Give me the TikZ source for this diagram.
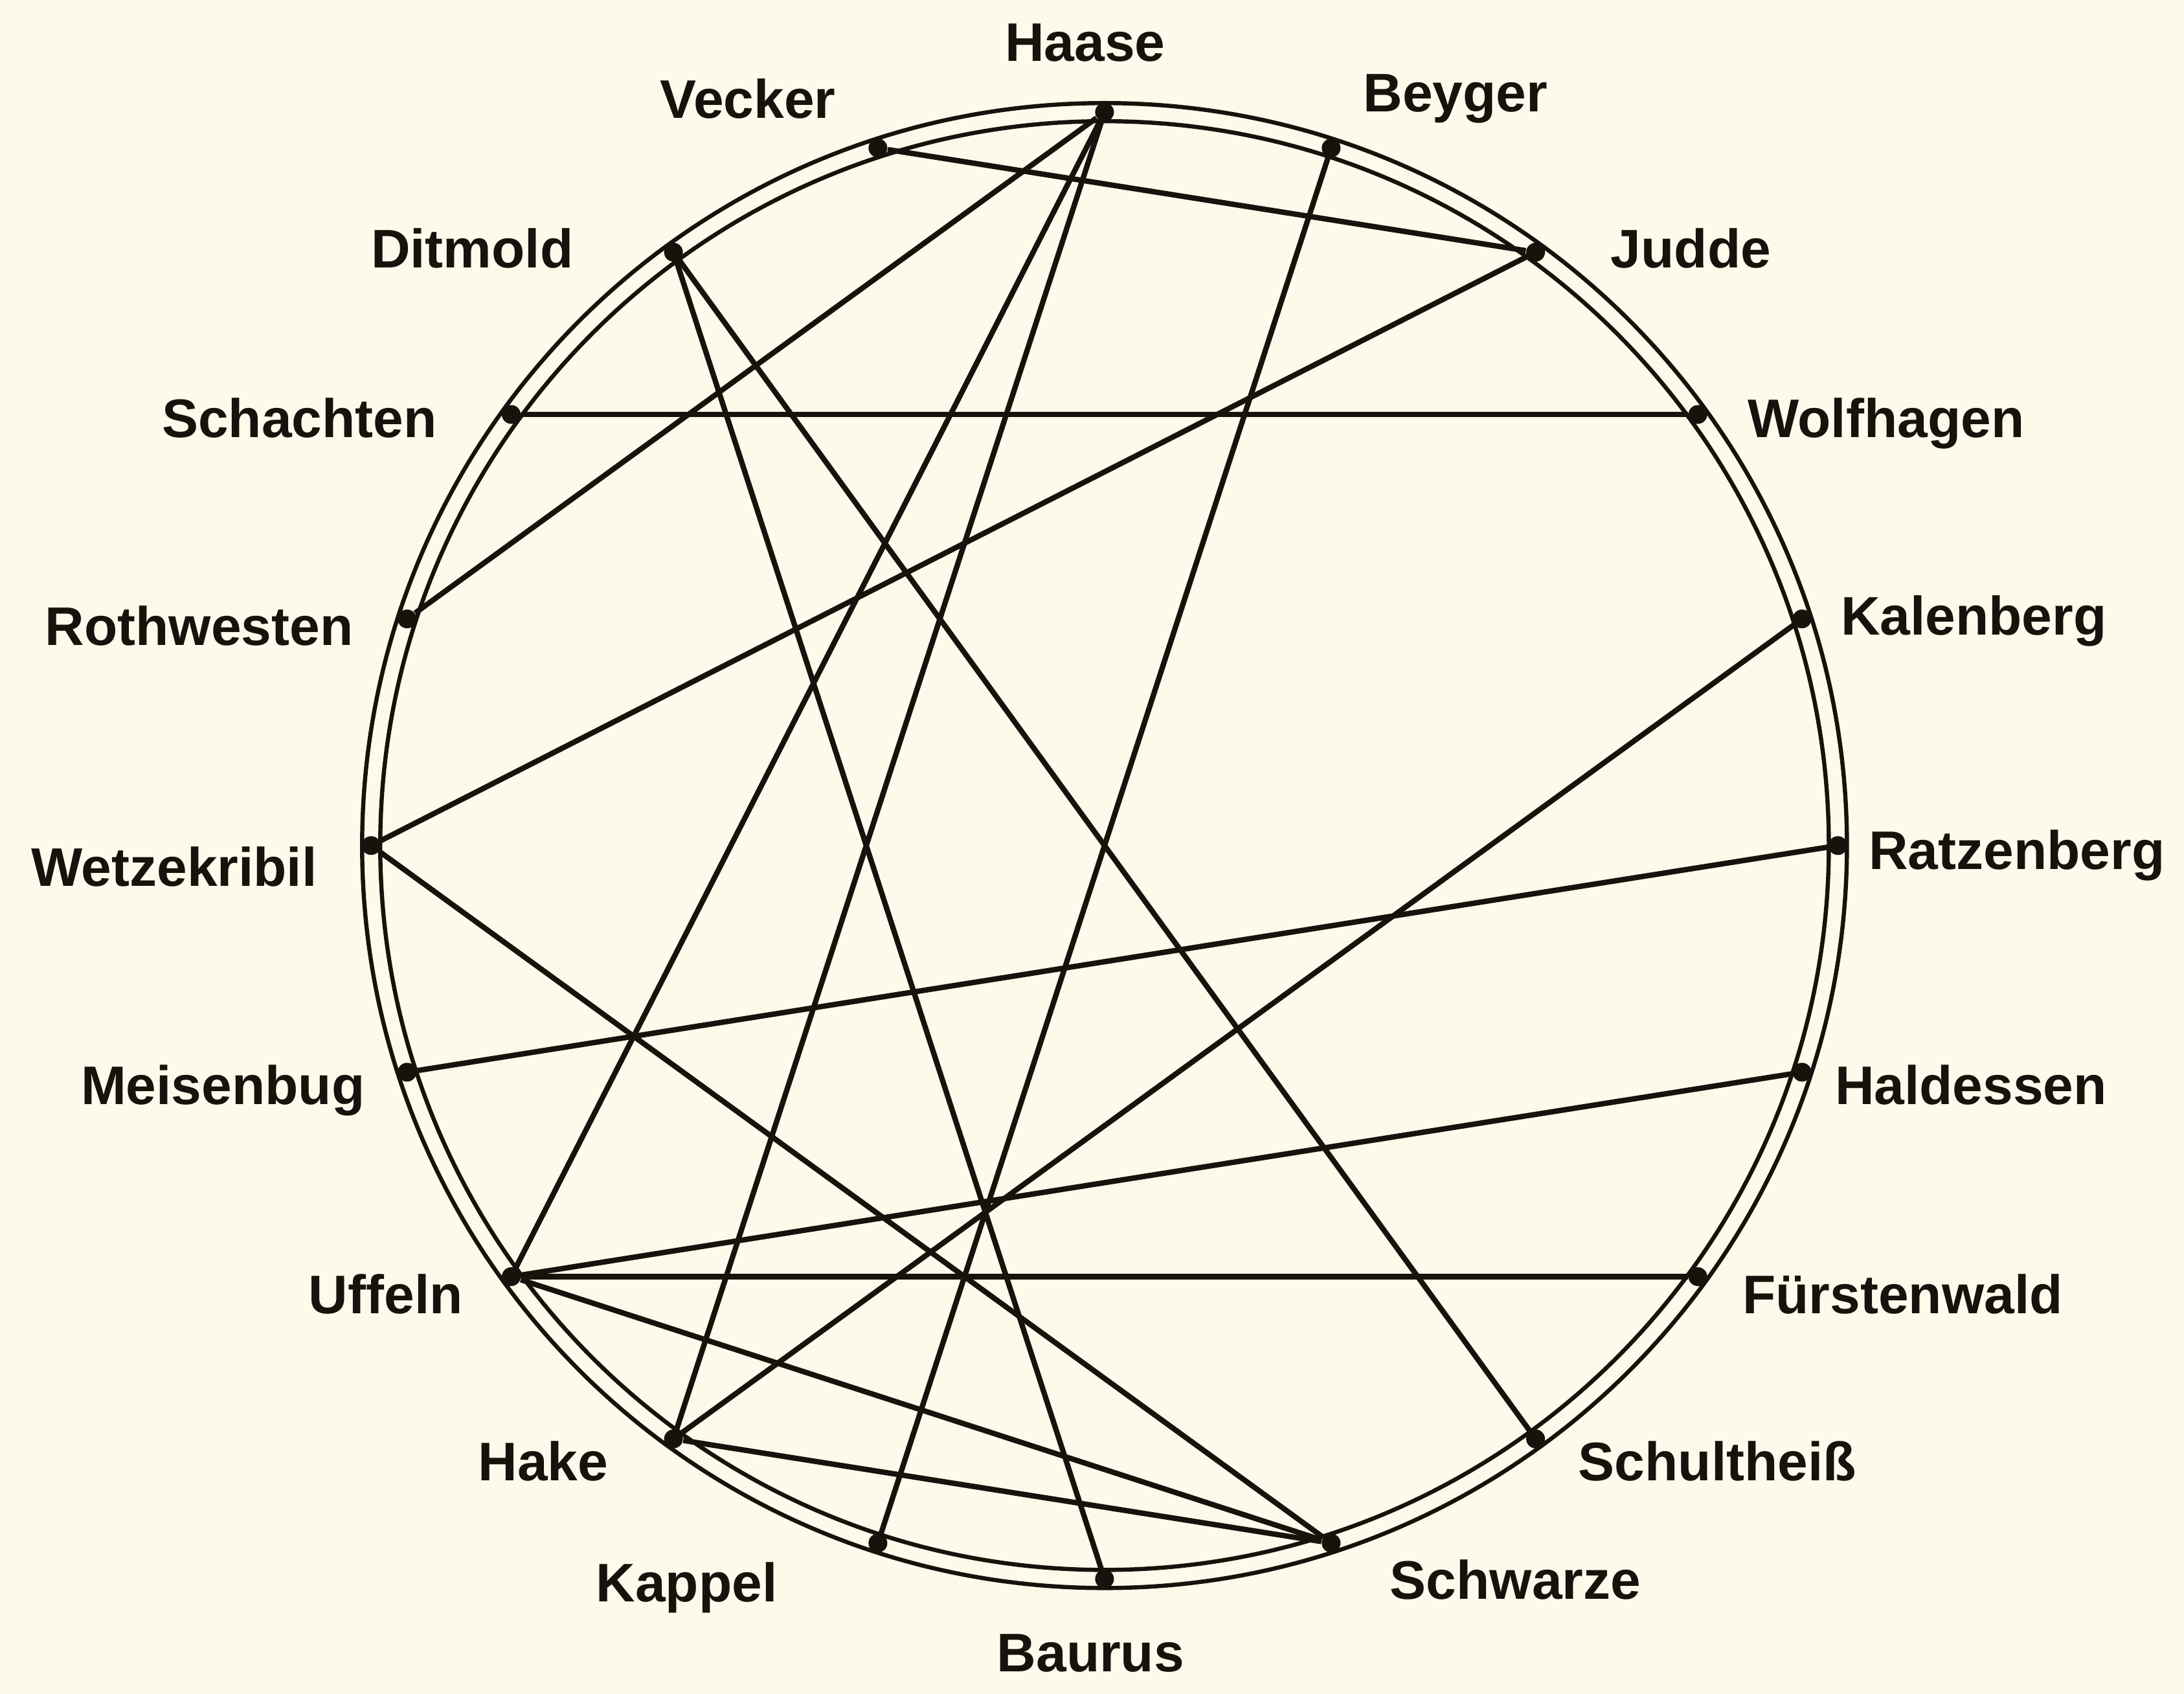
\documentclass[tikz,border=0pt]{standalone}
\usepackage{fontspec}
\setmainfont{Liberation Sans}
\usepackage{tikz}
\definecolor{paper}{RGB}{252, 250, 234}
\definecolor{ink}{RGB}{22, 18, 12}

\begin{document}
\begin{tikzpicture}[
  dot/.style={circle, fill=ink, inner sep=0pt, minimum size=0.27cm},
  place/.style={anchor=base, text=ink, inner sep=0pt, font=\fontsize{22.2}{26}\selectfont\bfseries},
  link/.style={draw=ink, line width=2.2pt},
  ring/.style={draw=ink, line width=1.7pt}
]
  \fill[paper] (-15.86, -12.18) rectangle (15.5, 12.14);

  % double ring
  \draw[ring] (0, 0) circle (10.40);
  \draw[ring] (0, 0) circle (10.66);

  % places on the ring
  \node[dot] (haase) at (90:10.53) {};
  \node[dot] (beyger) at (72:10.53) {};
  \node[dot] (judde) at (54:10.53) {};
  \node[dot] (wolfhagen) at (36:10.53) {};
  \node[dot] (kalenberg) at (18:10.53) {};
  \node[dot] (ratzenberg) at (0:10.53) {};
  \node[dot] (haldessen) at (-18:10.53) {};
  \node[dot] (fuerstenwald) at (-36:10.53) {};
  \node[dot] (schultheiss) at (-54:10.53) {};
  \node[dot] (schwarze) at (-72:10.53) {};
  \node[dot] (baurus) at (-90:10.53) {};
  \node[dot] (kappel) at (-108:10.53) {};
  \node[dot] (hake) at (-126:10.53) {};
  \node[dot] (uffeln) at (-144:10.53) {};
  \node[dot] (meisenbug) at (-162:10.53) {};
  \node[dot] (wetzekribil) at (180:10.53) {};
  \node[dot] (rothwesten) at (162:10.53) {};
  \node[dot] (schachten) at (144:10.53) {};
  \node[dot] (ditmold) at (126:10.53) {};
  \node[dot] (vecker) at (108:10.53) {};

  % names
  \node[place] (haase-l) at (-0.28, 11.26) {Haase};
  \node[place] (vecker-l) at (-5.12, 10.44) {Vecker};
  \node[place] (beyger-l) at (5.04, 10.54) {Beyger};
  \node[place] (ditmold-l) at (-9.08, 8.30) {Ditmold};
  \node[place] (judde-l) at (8.42, 8.30) {Judde};
  \node[place] (schachten-l) at (-11.56, 5.86) {Schachten};
  \node[place] (wolfhagen-l) at (11.22, 5.86) {Wolfhagen};
  \node[place] (rothwesten-l) at (-13.00, 2.88) {Rothwesten};
  \node[place] (kalenberg-l) at (12.48, 3.02) {Kalenberg};
  \node[place] (wetzekribil-l) at (-13.36, -0.58) {Wetzekribil};
  \node[place] (ratzenberg-l) at (13.10, -0.34) {Ratzenberg};
  \node[place] (meisenbug-l) at (-12.66, -3.72) {Meisenbug};
  \node[place] (haldessen-l) at (12.44, -3.72) {Haldessen};
  \node[place] (uffeln-l) at (-10.32, -6.72) {Uffeln};
  \node[place] (fuerstenwald-l) at (11.46, -6.72) {Fürstenwald};
  \node[place] (hake-l) at (-8.06, -9.12) {Hake};
  \node[place] (schultheiss-l) at (8.80, -9.12) {Schultheiß};
  \node[place] (kappel-l) at (-6.00, -10.86) {Kappel};
  \node[place] (schwarze-l) at (5.90, -10.82) {Schwarze};
  \node[place] (baurus-l) at (-0.20, -11.86) {Baurus};

  % links
  \draw[link] (vecker) -- (judde);
  \draw[link] (haase) -- (rothwesten);
  \draw[link] (haase) -- (uffeln);
  \draw[link] (haase) -- (hake);
  \draw[link] (beyger) -- (kappel);
  \draw[link] (ditmold) -- (baurus);
  \draw[link] (ditmold) -- (schultheiss);
  \draw[link] (schachten) -- (wolfhagen);
  \draw[link] (judde) -- (wetzekribil);
  \draw[link] (kalenberg) -- (hake);
  \draw[link] (ratzenberg) -- (meisenbug);
  \draw[link] (haldessen) -- (uffeln);
  \draw[link] (fuerstenwald) -- (uffeln);
  \draw[link] (wetzekribil) -- (schwarze);
  \draw[link] (uffeln) -- (schwarze);
  \draw[link] (hake) -- (schwarze);
\end{tikzpicture}
\end{document}
